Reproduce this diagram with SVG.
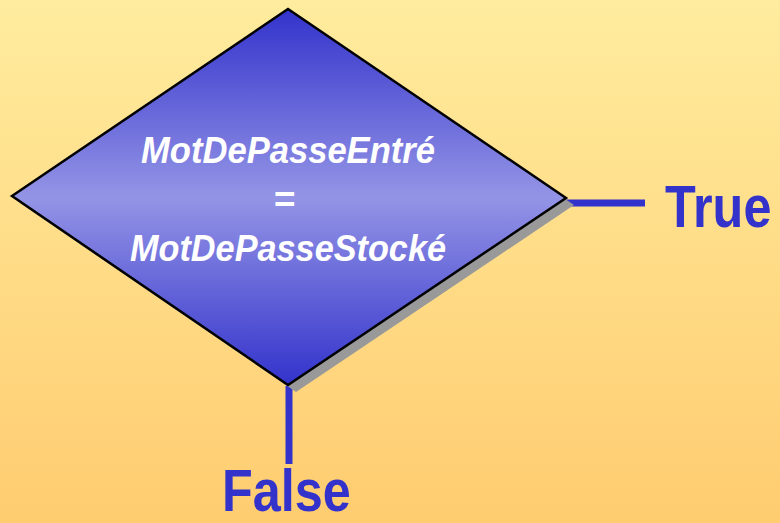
<svg xmlns="http://www.w3.org/2000/svg" width="780" height="523" viewBox="0 0 780 523">
<defs>
<linearGradient id="bg" x1="0" y1="0" x2="0" y2="1">
<stop offset="0" stop-color="#FFEC9E"/>
<stop offset="1" stop-color="#FFCC70"/>
</linearGradient>
<linearGradient id="dia" x1="0" y1="0" x2="0" y2="1">
<stop offset="0" stop-color="#3333CC"/>
<stop offset="0.5" stop-color="#9494E6"/>
<stop offset="1" stop-color="#3333CC"/>
</linearGradient>
<style>
.inner{font-family:"Liberation Sans",Arial,sans-serif;font-weight:bold;font-style:italic;fill:#FFFFFF;text-anchor:middle}
.lbl{font-family:"Liberation Sans",Arial,sans-serif;font-weight:bold;fill:#3333CC;font-size:60px}
.conn{stroke:#3333CC;stroke-width:7;fill:none}
</style>
</defs>
<rect width="780" height="523" fill="url(#bg)"/>
<g id="connectors">
<line class="conn" x1="566" y1="203" x2="645" y2="203"/>
<line class="conn" x1="289" y1="386" x2="289" y2="464"/>
</g>
<g id="decision">
<polygon points="296,16 574,205 296,392 20,203" fill="#999999"/>
<polygon points="288,9 566,198 288,385 12,196" fill="url(#dia)" stroke="#000000" stroke-width="2.5" stroke-linejoin="miter"/>
<text class="inner" x="288" y="163" font-size="37" textLength="294" lengthAdjust="spacingAndGlyphs">MotDePasseEntré</text>
<text class="inner" x="284" y="212" font-size="37">=</text>
<text class="inner" x="288" y="261" font-size="37" textLength="316" lengthAdjust="spacingAndGlyphs">MotDePasseStocké</text>
</g>
<g id="true-label">
<text class="lbl" transform="translate(665,227) scale(0.84,1)" x="0" y="0">True</text>
</g>
<g id="false-label">
<text class="lbl" transform="translate(222,511) scale(0.84,1)" x="0" y="0">False</text>
</g>
</svg>
